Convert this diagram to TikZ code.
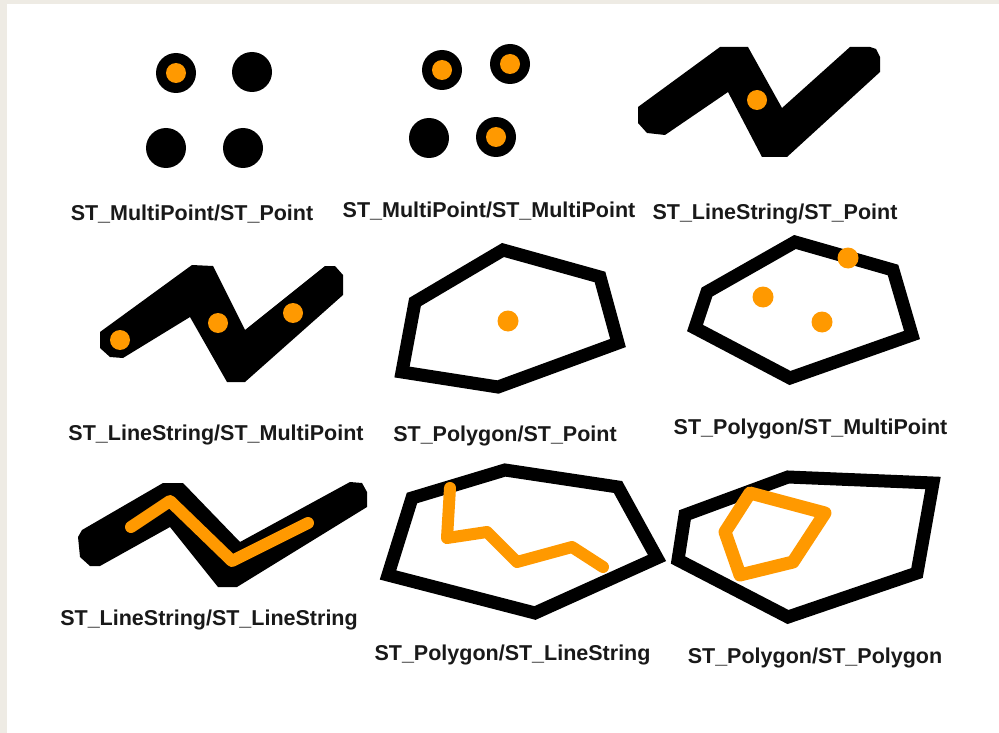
\documentclass[tikz,border=0pt]{standalone}
\usepackage{fontspec}
\setmainfont{Liberation Sans}
\definecolor{bgbeige}{HTML}{EEEBE4}
\definecolor{gorange}{HTML}{FF9900}
\begin{document}
\begin{tikzpicture}[x=1pt,y=-1pt,
  lbl/.style={font=\bfseries\fontsize{21.5}{24}\selectfont, text=black!90, anchor=base, inner sep=0pt},
  blk/.style={fill=black},
  poly/.style={draw=black, line width=13pt, line join=miter},
  oline/.style={draw=gorange, line width=12pt, line cap=round, line join=round},
  odot/.style={fill=gorange},
]
\useasboundingbox (0,0) rectangle (999,733);
\fill[bgbeige] (0,0) rectangle (999,733);
\fill[white] (7,4) rectangle (999,733);

% Panel 1: MultiPoint / Point
\fill[blk] (176,73) circle[radius=20];
\fill[odot] (176,73) circle[radius=10];
\fill[blk] (252,72) circle[radius=20];
\fill[blk] (166,148) circle[radius=20];
\fill[blk] (243,148) circle[radius=20];
\node[lbl] (l1) at (192,220) {ST\_MultiPoint/ST\_Point};

% Panel 2: MultiPoint / MultiPoint
\fill[blk] (442,70) circle[radius=20];
\fill[odot] (442,70) circle[radius=10];
\fill[blk] (510,64) circle[radius=20];
\fill[odot] (510,64) circle[radius=10];
\fill[blk] (429,138) circle[radius=20];
\fill[blk] (496,137) circle[radius=20];
\fill[odot] (496,137) circle[radius=10];
\node[lbl] (l2) at (489,217) {ST\_MultiPoint/ST\_MultiPoint};

% Panel 3: LineString / Point
\fill[blk] (638,107) -- (638,123) -- (647,133) -- (665,135) -- (728,92)
  -- (762,157) -- (787,157) -- (880,72) -- (880,57) -- (876,49) -- (870,47)
  -- (850,47) -- (782,108) -- (748,47) -- (720,47) -- cycle;
\fill[odot] (757,100) circle[radius=10];
\node[lbl] (l3) at (775,219) {ST\_LineString/ST\_Point};

% Panel 4: LineString / MultiPoint
\fill[blk] (100,332) -- (100,348) -- (110,357) -- (123,358) -- (190,317)
  -- (227,382) -- (245,382) -- (343,295) -- (343,275) -- (335,266) -- (325,266)
  -- (245,330) -- (213,266) -- (192,265) -- cycle;
\fill[odot] (120,340) circle[radius=10];
\fill[odot] (218,323) circle[radius=10];
\fill[odot] (293,313) circle[radius=10];
\node[lbl] (l4) at (216,440) {ST\_LineString/ST\_MultiPoint};

% Panel 5: Polygon / Point
\draw[poly] (415,302) -- (503,250) -- (600,277) -- (618,343) -- (498,387) -- (402,372) -- cycle;
\fill[odot] (508,321) circle[radius=10.5];
\node[lbl] (l5) at (505,441.5) {ST\_Polygon/ST\_Point};

% Panel 6: Polygon / MultiPoint
\draw[poly] (707,292) -- (795,242) -- (893,270) -- (912,335) -- (790,378) -- (695,328) -- cycle;
\fill[odot] (848,258) circle[radius=10.5];
\fill[odot] (763,297) circle[radius=10.5];
\fill[odot] (822,322) circle[radius=10.5];
\node[lbl] (l6) at (810.5,434) {ST\_Polygon/ST\_MultiPoint};

% Panel 7: LineString / LineString
\fill[blk] (78,537) -- (80,557) -- (90,566) -- (100,566) -- (170,527)
  -- (218,587) -- (237,587) -- (367,507) -- (367,492) -- (362,483) -- (350,482)
  -- (240,542) -- (183,483) -- (163,483) -- (82,530) -- cycle;
\draw[oline] (131,527) -- (170,501) -- (232,561) -- (308,523);
\node[lbl] (l7) at (209,625.5) {ST\_LineString/ST\_LineString};

% Panel 8: Polygon / LineString
\draw[poly] (412,498) -- (505,470) -- (618,487) -- (657,558) -- (535,613) -- (388,575) -- cycle;
\draw[oline] (450,488) -- (447,538) -- (487,532) -- (517,562) -- (572,547) -- (603,567);
\node[lbl] (l8) at (512.5,660.5) {ST\_Polygon/ST\_LineString};

% Panel 9: Polygon / Polygon
\draw[poly] (685,515) -- (788,477) -- (933,483) -- (917,573) -- (788,617) -- (678,560) -- cycle;
\draw[draw=gorange, line width=13pt, line join=round] (750,493) -- (825,513) -- (793,562) -- (740,575) -- (725,532) -- cycle;
\node[lbl] (l9) at (815,663) {ST\_Polygon/ST\_Polygon};
\end{tikzpicture}
\end{document}
